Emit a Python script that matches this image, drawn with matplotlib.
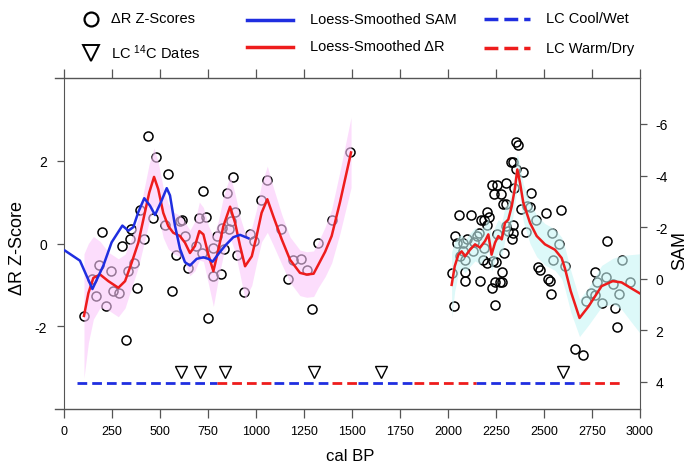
import numpy as np
import matplotlib.pyplot as plt
from matplotlib.lines import Line2D

plt.rcParams['font.family'] = ['Liberation Sans', 'DejaVu Sans']
plt.rcParams['mathtext.fontset'] = 'custom'
plt.rcParams['mathtext.rm'] = 'Liberation Sans'
plt.rcParams['axes.unicode_minus'] = False
plt.rcParams['lines.scale_dashes'] = False

# dR z-scores, early record (cal BP, z)
early_age = [104, 144, 165, 182, 200, 217, 245, 257, 286, 304, 321, 332, 344, 349, 366,
             382, 396, 417, 436, 465, 477, 524, 543, 561, 582, 604, 615, 630, 648, 688,
             703, 717, 722, 740, 752, 778, 778, 795, 816, 821, 835, 847, 861, 868, 880,
             892, 903, 939, 969, 990, 1024, 1059, 1128, 1165, 1194, 1236, 1267, 1290,
             1322, 1394, 1490]
early_z = [-1.75, -0.87, -1.26, -0.52, 0.27, -1.52, -0.66, -1.16, -1.2, -0.06, -2.33,
           -0.67, 0.11, 0.36, -0.47, -1.07, 0.82, 0.10, 2.59, 0.61, 2.08, 0.44, 1.68,
           -1.16, -0.29, 0.54, 0.56, 0.18, -0.59, -0.06, 0.61, -0.23, 1.27, 0.65, -1.8,
           -0.10, -0.79, 0.18, -0.73, 0.38, -0.13, 1.21, 0.34, 0.54, 1.61, 0.75, -0.29,
           -1.17, 0.22, 0.05, 1.04, 1.53, 0.36, -0.86, -0.41, -0.38, -0.64, -1.58, 0.02,
           0.58, 2.21]

# dR z-scores, late record
late_age = [2352, 2363, 2330, 2338, 2391, 2356, 2227, 2253, 2300, 2240, 2274, 2432, 2345,
            2285, 2302, 2378, 2410, 2427, 2587, 2509, 2057, 2120, 2205, 2215, 2172, 2187,
            2201, 2160, 2253, 2300, 2314, 2336, 2338, 2335, 2404, 2457, 2543, 2578, 2548,
            2470, 2522, 2609, 2830, 2908, 2765, 2038, 2045, 2078, 2097, 2135, 2151, 2187,
            2128, 2080, 2062, 2089, 2184, 2201, 2280, 2292, 2248, 2233, 2089, 2023, 2029,
            2243, 2087, 2169, 2229, 2243, 2271, 2282, 2478, 2529, 2538, 2663, 2704, 2766,
            2720, 2745, 2777, 2800, 2823, 2858, 2893, 2870, 2881, 2950]
late_z = [2.46, 2.39, 1.97, 1.97, 1.73, 1.79, 1.41, 1.41, 1.47, 1.2, 1.2, 1.23, 1.33,
          0.95, 0.95, 0.84, 0.9, 0.88, 0.82, 0.74, 0.70, 0.70, 0.76, 0.65, 0.56, 0.58,
          0.44, 0.26, 0.24, 0.42, 0.31, 0.45, 0.26, 0.10, 0.27, 0.58, 0.26, -0.01, -0.39,
          -0.56, -0.86, -0.55, 0.05, -0.39, -0.69, 0.18, 0.02, 0.02, 0.1, 0.03, 0.17,
          -0.12, -0.19, -0.19, -0.3, -0.39, -0.39, -0.46, -0.69, -0.24, -0.45, -0.43,
          -0.69, -0.71, -1.50, -1.48, -0.91, -0.9, -1.07, -0.93, -0.93, -0.93, -0.65,
          -0.9, -1.21, -2.55, -2.69, -1.24, -1.4, -1.2, -0.93, -1.44, -0.8, -0.97, -1.21,
          -1.56, -2.02, -0.93]

# loess-smoothed dR with band half-width
loess_early_age = [104, 127, 153, 188, 231, 283, 318, 352, 387, 417, 444, 469, 491, 517,
                   543, 569, 604, 630, 656, 682, 705, 726, 752, 778, 804, 830, 865, 891,
                   917, 943, 978, 1003, 1029, 1059, 1090, 1134, 1177, 1229, 1264, 1300,
                   1325, 1360, 1394, 1437, 1495]
loess_early = [-1.75, -1.2, -0.83, -0.75, -0.91, -1.07, -0.91, -0.47, 0.02, 0.66, 1.23,
               1.61, 1.31, 0.74, 0.42, 0.26, 0.18, 0.02, -0.23, -0.06, 0.30, 0.22, -0.27,
               -0.67, -0.15, 0.42, 0.89, 0.50, -0.06, -0.55, -0.31, 0.18, 0.74, 1.07,
               0.66, 0.10, -0.39, -0.71, -0.75, -0.73, -0.51, -0.2, 0.18, 0.99, 2.2]
band_early = [1.5, 1.2, 1.0, 0.8, 0.7, 0.7, 0.65, 0.6, 0.6, 0.65, 0.7, 0.7, 0.65, 0.6,
              0.55, 0.5, 0.5, 0.5, 0.55, 0.6, 0.7, 0.65, 0.7, 0.85, 0.7, 0.7, 0.75, 0.7,
              0.7, 0.8, 0.7, 0.65, 0.7, 0.8, 0.7, 0.6, 0.55, 0.55, 0.55, 0.55, 0.55, 0.6,
              0.65, 0.75, 0.85]

loess_late_age = [2019, 2035, 2054, 2071, 2089, 2115, 2141, 2167, 2193, 2210, 2227, 2245,
                  2262, 2280, 2297, 2314, 2332, 2349, 2361, 2375, 2392, 2427, 2462, 2505,
                  2557, 2592, 2609, 2639, 2685, 2732, 2800, 2858, 2904, 2950, 2997]
loess_late = [-1.0, -0.55, -0.27, -0.19, -0.31, -0.15, -0.02, -0.1, 0.06, 0.22, -0.27,
              0.02, 0.18, 0.10, 0.50, 0.58, 0.9, 1.35, 1.79, 1.47, 0.99, 0.50, 0.18,
              -0.02, -0.15, -0.35, -0.6, -1.15, -1.8, -1.52, -1.03, -0.91, -0.94, -1.07,
              -1.2]
band_late = [0.8, 0.6, 0.45, 0.4, 0.4, 0.4, 0.4, 0.4, 0.4, 0.4, 0.4, 0.4, 0.4, 0.4, 0.4,
             0.4, 0.4, 0.4, 0.4, 0.4, 0.45, 0.5, 0.5, 0.5, 0.5, 0.5, 0.5, 0.5, 0.45, 0.45,
             0.5, 0.55, 0.65, 0.8, 0.95]

# loess-smoothed SAM (right axis)
sam_age = [5, 83, 148, 205, 248, 304, 335, 361, 387, 418, 448, 474, 505, 535, 552, 578,
           604, 630, 656, 691, 726, 752, 774, 804, 839, 882, 917, 960]
sam = [-1.09, -0.70, 0.40, -0.51, -1.41, -2.06, -1.86, -2.0, -2.58, -3.12, -2.83, -2.47,
       -2.97, -3.51, -3.23, -2.06, -1.16, -0.64, -0.51, -0.77, -0.83, -0.77, -0.66, -0.96,
       -1.28, -1.61, -1.70, -1.57]

# Lake C 14C dates
date_age = [610, 710, 840, 1300, 1650, 2600]

# Lake C climate phases
cool_periods = [(67, 797), (1094, 1396), (1531, 1823), (2146, 2687)]
warm_periods = [(797, 1094), (1396, 1531), (1823, 2146), (2687, 2904)]

RED = '#ee1c1c'
BLUE = '#1f2ee0'
AXC = '#555555'

W, H = 692, 464
fig = plt.figure(figsize=(W / 100, H / 100), dpi=100)
ax = fig.add_axes([64 / W, 1 - 410 / H, 576 / W, 331 / H])
ax.set_xlim(0, 3000)
ax.set_ylim(-4.0, 4.0)

ax.plot(early_age, early_z, 'o', mfc='none', mec='black', ms=6.5, mew=1.1, zorder=2)
ax.plot(late_age, late_z, 'o', mfc='none', mec='black', ms=6.5, mew=1.1, zorder=2)

le, be = np.array(loess_early), np.array(band_early)
ll, bl = np.array(loess_late), np.array(band_late)
ax.fill_between(loess_early_age, le - be, le + be, color=(0.98, 0.78, 0.98),
                alpha=0.6, lw=0, zorder=3)
ax.fill_between(loess_late_age, ll - bl, ll + bl, color=(0.78, 0.96, 0.96),
                alpha=0.6, lw=0, zorder=3)
ax.plot(loess_early_age, loess_early, color=RED, lw=1.8, zorder=4)
ax.plot(loess_late_age, loess_late, color=RED, lw=1.8, zorder=4)

ax.plot(date_age, [-3.1] * len(date_age), 'v', mfc='white', mec='black', ms=8,
        mew=1.0, zorder=5)

lc_y = -3.37
for a, b in cool_periods:
    ax.plot([a, b], [lc_y, lc_y], color=BLUE, lw=2, dashes=(7, 3.6), zorder=4)
for a, b in warm_periods:
    ax.plot([a, b], [lc_y, lc_y], color=RED, lw=2, dashes=(7, 3.6), zorder=4)

ax2 = ax.twinx()
ax2.set_ylim(5.05, -7.78)
ax2.plot(sam_age, sam, color=BLUE, lw=1.8, zorder=4)

# frame
for s in ['top', 'bottom', 'right']:
    ax.spines[s].set_visible(False)
ax.spines['left'].set_color(AXC)
for s in ['top', 'bottom', 'left']:
    ax2.spines[s].set_visible(False)
ax2.spines['right'].set_color(AXC)
for yy in (0, 1):
    ax.plot([-45, 3000], [yy, yy], transform=ax.get_xaxis_transform(),
            clip_on=False, color=AXC, lw=1)

ax.set_xticks(range(0, 3001, 250))
ax.tick_params(axis='x', direction='out', length=6.5, width=0.9, color=AXC,
               labelsize=9, pad=5, top=True)
ax.set_yticks([-2, 0, 2])
ax.tick_params(axis='y', direction='out', length=5, width=0.9, color=AXC,
               labelsize=10, pad=7)
ax2.set_yticks([-6, -4, -2, 0, 2, 4])
ax2.tick_params(axis='y', direction='out', length=5, width=0.9, color=AXC,
                labelsize=10, pad=6)

fig.text(18 / W, 1 - 248 / H, 'ΔR Z-Score', rotation=90, ha='center', va='center',
         fontsize=13)
fig.text(680 / W, 1 - 250 / H, 'SAM', rotation=90, ha='center', va='center',
         fontsize=13)
fig.text(350 / W, 1 - 457 / H, 'cal BP', ha='center', va='center', fontsize=12)

# legend drawn in figure pixels
def fx(px):
    return px / W

def fy(py):
    return 1 - py / H

fig.add_artist(Line2D([fx(91)], [fy(20)], marker='o', ms=10, mfc='none', mec='black',
                      mew=1.6, transform=fig.transFigure))
fig.add_artist(Line2D([fx(91)], [fy(54)], marker='v', ms=11, mfc='white', mec='black',
                      mew=1.4, transform=fig.transFigure))
fig.add_artist(Line2D([fx(247), fx(293)], [fy(21), fy(21)], color=BLUE, lw=2.5,
                      transform=fig.transFigure))
fig.add_artist(Line2D([fx(247), fx(293)], [fy(48), fy(48)], color=RED, lw=2.5,
                      transform=fig.transFigure))
fig.add_artist(Line2D([fx(484), fx(530)], [fy(20), fy(20)], color=BLUE, lw=2.5,
                      dashes=(10, 4.3), transform=fig.transFigure))
fig.add_artist(Line2D([fx(484), fx(530)], [fy(49), fy(49)], color=RED, lw=2.5,
                      dashes=(10, 4.3), transform=fig.transFigure))

legend_font = 10.5
fig.text(fx(111), fy(19), 'ΔR Z-Scores', ha='left', va='center', fontsize=legend_font)
fig.text(fx(111), fy(53), 'LC $\\mathregular{^{14}}$C Dates', ha='left', va='center',
         fontsize=legend_font)
fig.text(fx(310), fy(20), 'Loess-Smoothed SAM', ha='left', va='center',
         fontsize=legend_font)
fig.text(fx(310), fy(47), 'Loess-Smoothed ΔR', ha='left', va='center',
         fontsize=legend_font)
fig.text(fx(546), fy(19), 'LC Cool/Wet', ha='left', va='center', fontsize=legend_font)
fig.text(fx(546), fy(49), 'LC Warm/Dry', ha='left', va='center', fontsize=legend_font)

fig.savefig('out.png', dpi=100)
